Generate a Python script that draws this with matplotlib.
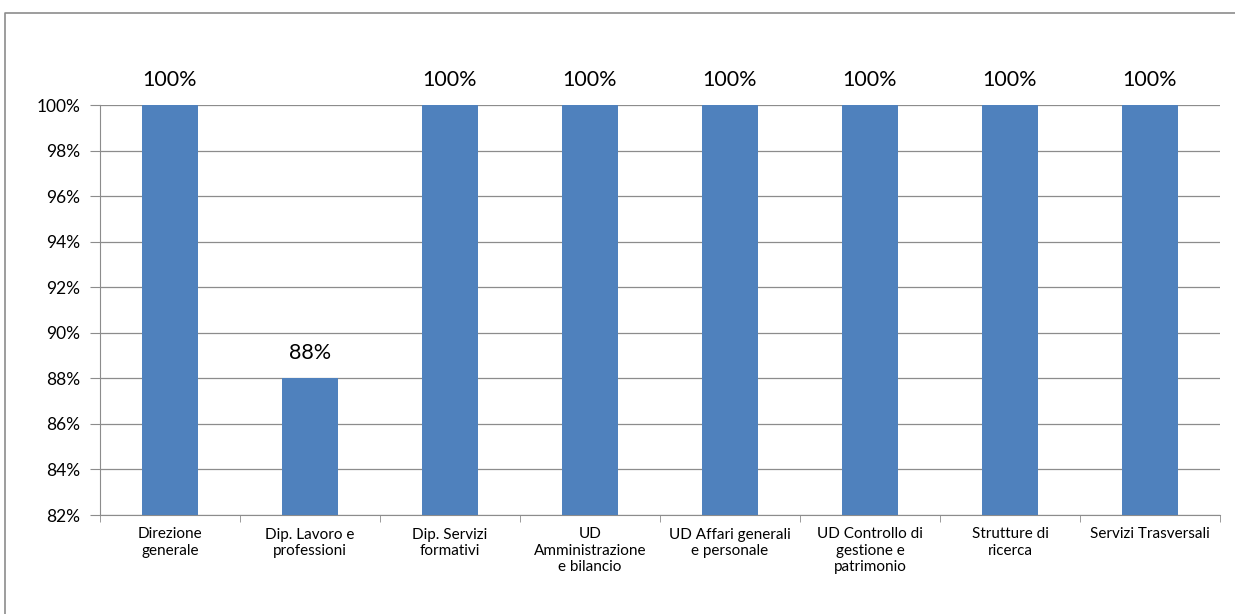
import numpy as np
import matplotlib.pyplot as plt
from matplotlib.lines import Line2D

categorie = ["Direzione\ngenerale", "Dip. Lavoro e\nprofessioni", "Dip. Servizi\nformativi",
             "UD\nAmministrazione\ne bilancio", "UD Affari generali\ne personale",
             "UD Controllo di\ngestione e\npatrimonio", "Strutture di\nricerca", "Servizi Trasversali"]
valori = [100, 88, 100, 100, 100, 100, 100, 100]
tick_y = [82, 84, 86, 88, 90, 92, 94, 96, 98, 100]

plt.rcParams['font.family'] = ['Lato', 'DejaVu Sans']

fig = plt.figure(figsize=(12.35, 6.14), dpi=100)
ax = fig.add_axes([100 / 1235, 1 - 515 / 614, 1120 / 1235, 410 / 614])

# cornice esterna del grafico (solo lati visibili)
x0, y0 = 4.5 / 1235, 1 - 12.5 / 614
fig.add_artist(Line2D([x0, x0, 1.0], [0.0, y0, y0], transform=fig.transFigure,
                      color="#8c8c8c", linewidth=1.2))

x = np.arange(len(categorie))
ax.bar(x, valori, width=0.4, color="#4F81BD", zorder=3)

for xi, v in zip(x, valori):
    ax.annotate(f"{v}%", (xi, v), xytext=(0, 11), textcoords="offset points",
                ha="center", va="bottom", fontsize=15.5, annotation_clip=False)

ax.set_ylim(82, 100)
ax.set_yticks(tick_y)
ax.set_yticklabels([f"{t}%" for t in tick_y], fontsize=12.5)
ax.yaxis.grid(True, color="#8c8c8c", linewidth=0.9, zorder=0)

ax.set_xlim(-0.5, len(categorie) - 0.5)
ax.set_xticks(x)
ax.set_xticklabels(categorie, fontsize=11, linespacing=1.2)
ax.set_xticks(np.arange(-0.5, len(categorie)), minor=True)
ax.tick_params(axis="x", which="major", length=0, pad=9)
ax.tick_params(axis="x", which="minor", length=5, color="#8c8c8c", direction="out")
ax.tick_params(axis="y", length=7, color="#8c8c8c", pad=7)

for lato in ["top", "right"]:
    ax.spines[lato].set_visible(False)
for lato in ["left", "bottom"]:
    ax.spines[lato].set_color("#8c8c8c")

fig.savefig("out.png", dpi=100)
